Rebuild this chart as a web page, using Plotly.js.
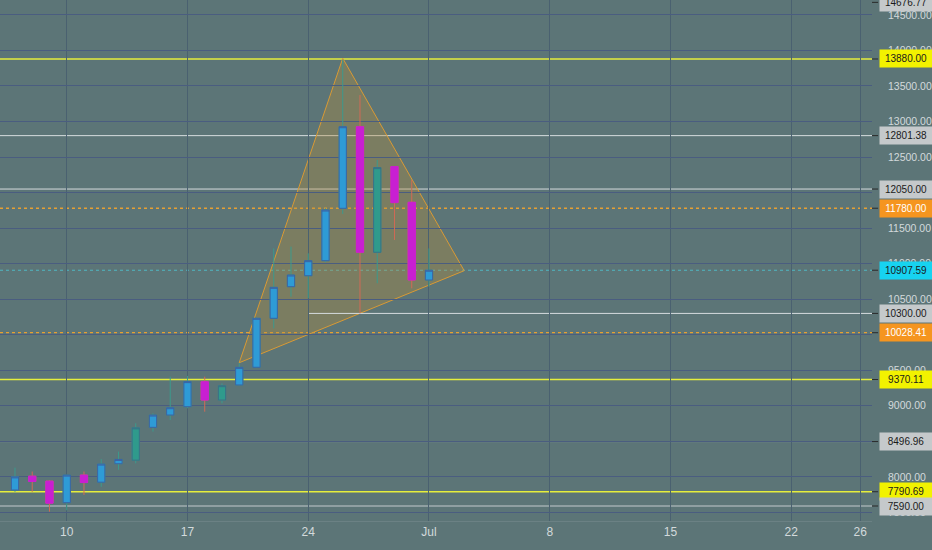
<!DOCTYPE html>
<html>
<head>
<meta charset="utf-8">
<script src="https://cdn.plot.ly/plotly-3.0.1.min.js"></script>
<style>
  html, body { margin: 0; padding: 0; background: #5c7577; }
  #chart { width: 932px; height: 550px; }
</style>
</head>
<body>
<div id="chart"></div>
<script>
// ---- data ----
const dates = ['2019-06-07','2019-06-08','2019-06-09','2019-06-10','2019-06-11','2019-06-12','2019-06-13',
  '2019-06-14','2019-06-15','2019-06-16','2019-06-17','2019-06-18','2019-06-19','2019-06-20','2019-06-21',
  '2019-06-22','2019-06-23','2019-06-24','2019-06-25','2019-06-26','2019-06-27','2019-06-28','2019-06-29',
  '2019-06-30','2019-07-01'];
const opens  = [7815, 8010, 7940, 7637, 8025, 7925, 8185, 8235, 8697, 8870, 8987, 9339, 9081, 9293, 9542,
  10231, 10676, 10830, 11042, 11779, 12927, 11160, 12366, 11864, 10770];
const highs  = [8130, 8075, 7950, 8030, 8075, 8250, 8355, 8755, 8895, 9410, 9420, 9410, 9316, 9600, 10240,
  11215, 11240, 11145, 11780, 13870, 13373, 12460, 12370, 12177, 11215];
const lows   = [7790, 7790, 7510, 7530, 7745, 7860, 8100, 8190, 8636, 8800, 8965, 8917, 9035, 9280, 9530,
  10090, 10535, 10513, 11020, 11700, 10300, 10724, 11334, 10653, 10677];
const closes = [8000, 7935, 7630, 8025, 7920, 8180, 8245, 8690, 8870, 8973, 9340, 9081, 9283, 9541, 10231,
  10667, 10840, 11042, 11755, 12927, 11160, 12351, 11859, 10770, 10907.59];
// candle colour group: 'b' blue, 't' teal, 'm' magenta
const groups = ['b','m','m','b','m','b','b','t','b','b','b','m','t','b','b','b','b','b','b','b','m','t','m','m','b'];

// triangle drawing
const triDates  = ['2019-06-20 00:00', '2019-06-26 00:00', '2019-07-03 01:00'];
const triPrices = [9606, 13890, 10901];

// horizontal price levels
const levelValues = [13880, 12801.38, 12050, 11780, 10300, 10028.41, 9370.11, 8496.96, 7790.69, 7590];
const levelStart  = [null, null, null, null, '2019-06-24', null, null, null, null, null];
const lastPrice = 10907.59;
const topLabelValue = 14676.77;

// x tick labels
const xTickVals = ['2019-06-10','2019-06-17','2019-06-24','2019-07-01','2019-07-08','2019-07-15','2019-07-22','2019-07-26'];
const xTickText = ['10','17','24','Jul','8','15','22','26'];

// ---- styles ----
const levelStyle = {
  13880:    {line:'#e6ee3c', dash:'solid', w:1.5, bg:'#f2f200', fg:'#1a1a1a'},
  12801.38: {line:'#d6dcde', dash:'solid', w:1,   bg:'#c5c9cb', fg:'#1a1a1a'},
  12050:    {line:'#d6dcde', dash:'solid', w:1,   bg:'#c5c9cb', fg:'#1a1a1a'},
  11780:    {line:'#e6a033', dash:'dot',   w:1.3, bg:'#f5951f', fg:'#ffffff'},
  10300:    {line:'#d6dcde', dash:'solid', w:1,   bg:'#c5c9cb', fg:'#1a1a1a'},
  10028.41: {line:'#e6a033', dash:'dot',   w:1.3, bg:'#f5951f', fg:'#ffffff'},
  9370.11:  {line:'#e6ee3c', dash:'solid', w:1.5, bg:'#f2f200', fg:'#1a1a1a'},
  8496.96:  {line:'#c9c9e2', dash:'solid', w:1,   bg:'#c5c9cb', fg:'#1a1a1a'},
  7790.69:  {line:'#e6ee3c', dash:'solid', w:1.5, bg:'#f2f200', fg:'#1a1a1a'},
  7590:     {line:'#c2cacd', dash:'solid', w:1,   bg:'#c5c9cb', fg:'#1a1a1a'}
};
const groupStyle = {
  b: {fill:'#2e9bd6', border:'#3c63a2', wick:'#3c9a8c'},
  t: {fill:'#2f9a8c', border:'#3c6f86', wick:'#3c9a8c'},
  m: {fill:'#c81fd2', border:'#c81fd2', wick:'#d06a56'}
};

// ---- traces ----
const traces = [];
function pick(arr, g) { return arr.filter((_, i) => groups[i] === g); }
['b','t','m'].forEach(g => {
  const st = groupStyle[g];
  const x = pick(dates, g), o = pick(opens, g), h = pick(highs, g), l = pick(lows, g), c = pick(closes, g);
  if (!x.length) return;
  // wicks + body
  traces.push({type:'candlestick', x, open:o, high:h, low:l, close:c,
    increasing:{line:{color:st.wick, width:1}, fillcolor:st.fill},
    decreasing:{line:{color:st.wick, width:1}, fillcolor:st.fill},
    whiskerwidth:0, showlegend:false, hoverinfo:'skip'});
  // body overlay with border colour
  const bh = o.map((v, i) => Math.max(v, c[i]));
  const bl = o.map((v, i) => Math.min(v, c[i]));
  traces.push({type:'candlestick', x, open:o, high:bh, low:bl, close:c,
    increasing:{line:{color:st.border, width:1}, fillcolor:st.fill},
    decreasing:{line:{color:st.border, width:1}, fillcolor:st.fill},
    whiskerwidth:0, showlegend:false, hoverinfo:'skip'});
});

// ---- shapes & annotations ----
const shapes = [];
const annotations = [];
// triangle as a path shape below the candles
const triPath = triDates.map((d, i) => (i === 0 ? 'M ' : 'L ') + d.replace(' ', '_') + ',' + triPrices[i]).join(' ') + ' Z';
shapes.push({type:'path', xref:'x', yref:'y', path:triPath, layer:'below',
  fillcolor:'rgba(185,140,55,0.34)', line:{color:'#d99a34', width:1}});

const labelFont = {family:'Liberation Sans, Arial, sans-serif', size:10};
function addLabel(val, bg, fg) {
  annotations.push({xref:'paper', yref:'y', x:1, y:val, xanchor:'left', yanchor:'middle', xshift:7,
    text: val.toFixed(2), showarrow:false, bgcolor:bg, font:Object.assign({color:fg}, labelFont),
    width:50, height:15, borderpad:1, align:'center'});
  shapes.push({type:'line', xref:'paper', yref:'y', x0:1, x1:1.007, y0:val, y1:val,
    line:{color:'#2a2a2a', width:1}, layer:'above'});
}
levelValues.forEach((v, i) => {
  const st = levelStyle[v];
  if (levelStart[i]) {
    shapes.push({type:'line', xref:'x', yref:'y', x0:levelStart[i], x1:'2019-07-27', y0:v, y1:v,
      line:{color:st.line, width:st.w, dash:st.dash}, layer:'below'});
  } else {
    shapes.push({type:'line', xref:'paper', yref:'y', x0:0, x1:1, y0:v, y1:v,
      line:{color:st.line, width:st.w, dash:st.dash}, layer:'below'});
  }
  addLabel(v, st.bg, st.fg);
});
// last price line
shapes.push({type:'line', xref:'paper', yref:'y', x0:0, x1:1, y0:lastPrice, y1:lastPrice,
  line:{color:'#4fb6c2', width:1.2, dash:'dot'}, layer:'below'});
addLabel(lastPrice, '#17d3f0', '#1a1a1a');
addLabel(topLabelValue, '#c5c9cb', '#1a1a1a');

// ---- layout ----
const layout = {
  width:932, height:550,
  margin:{l:0, r:60, t:0, b:29},
  paper_bgcolor:'#5c7577', plot_bgcolor:'#5c7577',
  font:{family:'Liberation Sans, Arial, sans-serif', size:12, color:'#d3dadc'},
  showlegend:false,
  boxgap:0.4,
  xaxis:{type:'date', range:['2019-06-06 03:10','2019-07-26 16:20'], tickvals:xTickVals, ticktext:xTickText,
    showgrid:true, gridcolor:'#4a6170', gridwidth:1, zeroline:false, rangeslider:{visible:false},
    showline:true, linecolor:'#6b8184', linewidth:1, ticks:'', tickfont:{size:12, color:'#d3dadc'}, fixedrange:true},
  yaxis:{side:'right', range:[7379, 14710], dtick:500, tick0:0, tickformat:'.2f',
    showgrid:true, gridcolor:'#4a5d80', gridwidth:1, zeroline:false, ticks:'',
    ticklabelstandoff:15, tickfont:{size:10.5, color:'#d3dadc'}, fixedrange:true},
  shapes, annotations
};
Plotly.newPlot('chart', traces, layout, {staticPlot:true, displayModeBar:false});
</script>
</body>
</html>
